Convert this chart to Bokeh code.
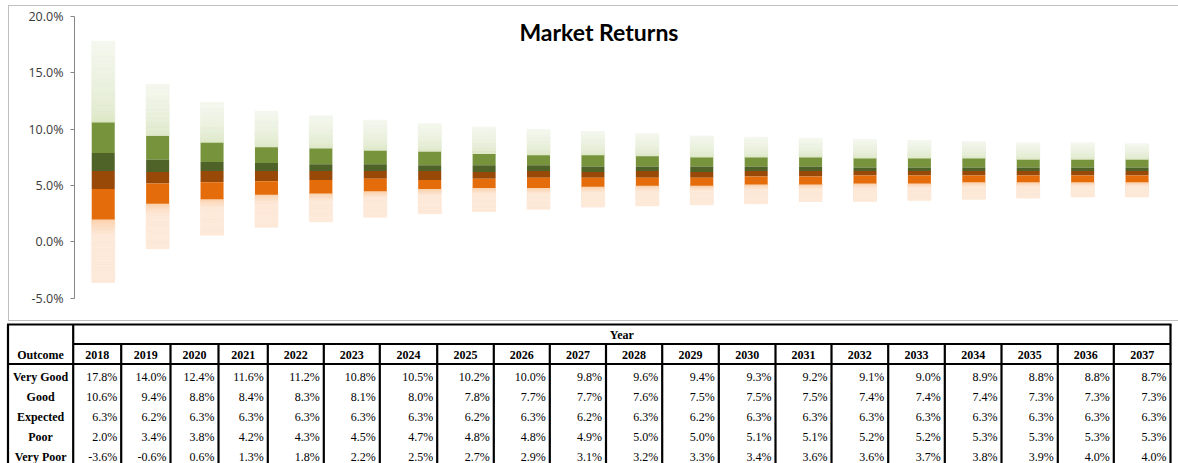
import numpy as np
from bokeh.plotting import figure
from bokeh.layouts import column
from bokeh.models import Range1d, PrintfTickFormatter, FixedTicker, Label, ColumnDataSource
from bokeh.core.properties import value
from bokeh.embed import file_html
from bokeh.resources import INLINE

# ---------------- data ----------------
years = [str(y) for y in range(2018, 2038)]
very_good = [17.8, 14.0, 12.4, 11.6, 11.2, 10.8, 10.5, 10.2, 10.0, 9.8, 9.6, 9.4, 9.3, 9.2, 9.1, 9.0, 8.9, 8.8, 8.8, 8.7]
good      = [10.6, 9.4, 8.8, 8.4, 8.3, 8.1, 8.0, 7.8, 7.7, 7.7, 7.6, 7.5, 7.5, 7.5, 7.4, 7.4, 7.4, 7.3, 7.3, 7.3]
upper_mid = [7.9, 7.3, 7.1, 7.0, 6.9, 6.9, 6.8, 6.8, 6.8, 6.7, 6.7, 6.7, 6.7, 6.7, 6.6, 6.6, 6.6, 6.6, 6.6, 6.6]
expected  = [6.3, 6.2, 6.3, 6.3, 6.3, 6.3, 6.3, 6.2, 6.3, 6.2, 6.3, 6.2, 6.3, 6.3, 6.3, 6.3, 6.3, 6.3, 6.3, 6.3]
lower_mid = [4.7, 5.2, 5.3, 5.4, 5.5, 5.6, 5.5, 5.6, 5.7, 5.7, 5.7, 5.7, 5.8, 5.8, 5.9, 5.9, 5.9, 5.9, 5.9, 5.9]
poor      = [2.0, 3.4, 3.8, 4.2, 4.3, 4.5, 4.7, 4.8, 4.8, 4.9, 5.0, 5.0, 5.1, 5.1, 5.2, 5.2, 5.3, 5.3, 5.3, 5.3]
very_poor = [-3.6, -0.6, 0.6, 1.3, 1.8, 2.2, 2.5, 2.7, 2.9, 3.1, 3.2, 3.3, 3.4, 3.6, 3.6, 3.7, 3.8, 3.9, 4.0, 4.0]
outcomes = ["Very Good", "Good", "Expected", "Poor", "Very Poor"]
y_ticks = [-5, 0, 5, 10, 15, 20]
title_text = "Market Returns"
table_header = "Year"
outcome_header = "Outcome"

# ---------------- styles ----------------
C_OLIVE = "#77933C"
C_DKGREEN = "#4F6228"
C_DKORANGE = "#984807"
C_ORANGE = "#E46C0A"
G_TOP, G_BOT = "#F4F7EE", "#D7E4BD"
P_TOP, P_BOT = "#FBCFAA", "#FDE9D9"

def h2r(h):
    h = h.lstrip("#")
    return [int(h[i:i + 2], 16) for i in (0, 2, 4)]

def mix(a, b, t):
    ra, rb = h2r(a), h2r(b)
    return "#%02x%02x%02x" % tuple(int(round(ra[i] + (rb[i] - ra[i]) * t)) for i in range(3))

BAR_W = 0.423
xs = list(range(len(years)))

p = figure(width=1170, height=316, output_backend="svg", toolbar_location=None,
           x_range=Range1d(-0.528, 19.78), y_range=Range1d(-7.143, 20.893),
           x_axis_type=None, min_border_left=65, min_border_right=0,
           min_border_top=0, min_border_bottom=0, margin=(5, 0, 0, 8))
p.frame_align = False
p.outline_line_color = None
p.grid.visible = False
p.styles = {"border-left": "1px solid #BFBFBF", "border-top": "1px solid #BFBFBF",
            "border-bottom": "1px solid #BFBFBF", "box-sizing": "border-box"}

ax = p.yaxis[0]
ax.ticker = FixedTicker(ticks=y_ticks)
ax.formatter = PrintfTickFormatter(format="%.1f%%")
ax.bounds = (min(y_ticks), max(y_ticks))
ax.axis_line_color = "#868686"
ax.major_tick_line_color = "#868686"
ax.minor_tick_line_color = None
ax.major_tick_in = 0
ax.major_tick_out = 4
ax.major_label_standoff = 7
ax.major_label_text_font = "Open Sans"
ax.major_label_text_font_size = "12.5px"
ax.major_label_text_color = "#3a3a3a"

# gradient bands built from slices
N = 40
gx, gb, gt, gc = [], [], [], []
for i in xs:
    lo, hi = good[i], very_good[i]
    for k in range(N):
        b = lo + (hi - lo) * k / N
        t_ = lo + (hi - lo) * (k + 1) / N
        f = (k + 0.5) / N  # 0 at bottom, 1 at top
        gx.append(i); gb.append(b); gt.append(t_)
        gc.append(mix(G_BOT, G_TOP, f ** 0.5))
    lo, hi = very_poor[i], poor[i]
    for k in range(N):
        b = lo + (hi - lo) * k / N
        t_ = lo + (hi - lo) * (k + 1) / N
        dt = 1 - (k + 0.5) / N  # 0 at top
        gx.append(i); gb.append(b); gt.append(t_)
        gc.append(mix(P_TOP, P_BOT, min(1.0, dt / 0.25) ** 0.8))
gsrc = ColumnDataSource(dict(x=gx, bottom=gb, top=gt, color=gc))
p.vbar(x="x", width=BAR_W, bottom="bottom", top="top", fill_color="color",
       line_color="color", line_width=0.6, source=gsrc)

src = ColumnDataSource(dict(x=xs, vg=very_good, g=good, um=upper_mid, e=expected,
                            lm=lower_mid, po=poor, vp=very_poor))
p.vbar(x="x", width=BAR_W, bottom="um", top="g", fill_color=C_OLIVE, line_color=None, source=src)
p.vbar(x="x", width=BAR_W, bottom="e", top="um", fill_color=C_DKGREEN, line_color=None, source=src)
p.vbar(x="x", width=BAR_W, bottom="lm", top="e", fill_color=C_DKORANGE, line_color=None, source=src)
p.vbar(x="x", width=BAR_W, bottom="po", top="lm", fill_color=C_ORANGE, line_color=None, source=src)

p.add_layout(Label(x=9.11, y=18.62, text=title_text, text_align="center", text_baseline="middle",
                   text_font="Lato", text_font_size="23px", text_font_style="bold",
                   text_color="#000000"))

# ---------------- table ----------------
t = figure(width=1178, height=142, output_backend="svg", toolbar_location=None,
           x_range=Range1d(0, 1178), y_range=Range1d(463, 321),
           x_axis_type=None, y_axis_type=None, min_border=0)
t.frame_align = False
t.outline_line_color = None
t.grid.visible = False

col_edges = [7.5, 72.7, 120.7, 170, 218, 267.3, 323.3, 379.3, 436.7, 493.3, 549.3, 605.5,
             661.7, 718.3, 775, 831, 887.7, 944.3, 1001, 1057.3, 1113.3, 1170]
Y_TOP, Y_YEAR, Y_HEAD, Y_BOT = 324, 343.5, 363.5, 470
row_y = [376.2, 396.2, 416.2, 436.2, 456.6]

sx0, sy0, sx1, sy1 = [], [], [], []
def seg(a, b, c, d):
    sx0.append(a); sy0.append(b); sx1.append(c); sy1.append(d)
seg(col_edges[0] - 1, Y_TOP, col_edges[-1] + 1, Y_TOP)
seg(col_edges[1], Y_YEAR, col_edges[-1], Y_YEAR)
seg(col_edges[0] - 1, Y_HEAD, col_edges[-1] + 1, Y_HEAD)
seg(col_edges[0], Y_TOP, col_edges[0], Y_BOT)
seg(col_edges[1], Y_TOP, col_edges[1], Y_BOT)
seg(col_edges[-1], Y_TOP, col_edges[-1], Y_BOT)
for e in col_edges[2:-1]:
    seg(e, Y_YEAR, e, Y_BOT)
t.segment(x0=sx0, y0=sy0, x1=sx1, y1=sy1, line_color="black", line_width=2.2)

TF = value("Liberation Serif")
t.text(x=[(col_edges[1] + col_edges[-1]) / 2], y=[334.8], text=[table_header],
       text_align="center", text_baseline="middle", text_font=TF,
       text_font_size="12px", text_font_style="bold", text_color="black")
t.text(x=[(col_edges[0] + col_edges[1]) / 2], y=[354.3], text=[outcome_header],
       text_align="center", text_baseline="middle", text_font=TF,
       text_font_size="12px", text_font_style="bold", text_color="black")
centers = [(col_edges[i + 1] + col_edges[i + 2]) / 2 for i in range(len(years))]
t.text(x=centers, y=[354.3] * len(years), text=years,
       text_align="center", text_baseline="middle", text_font=TF,
       text_font_size="12px", text_font_style="bold", text_color="black")
t.text(x=[(col_edges[0] + col_edges[1]) / 2] * len(outcomes), y=row_y, text=outcomes,
       text_align="center", text_baseline="middle", text_font=TF,
       text_font_size="12px", text_font_style="bold", text_color="black")

rows = [very_good, good, expected, poor, very_poor]
vx, vy, vt = [], [], []
for r, vals in enumerate(rows):
    for i, v in enumerate(vals):
        vx.append(col_edges[i + 2] - 4)
        vy.append(row_y[r])
        vt.append("%.1f%%" % v)
t.text(x=vx, y=vy, text=vt, text_align="right", text_baseline="middle", text_font=TF,
       text_font_size="12px", text_color="black")

layout = column(p, t)
open("out.html", "w").write(file_html(layout, INLINE))
